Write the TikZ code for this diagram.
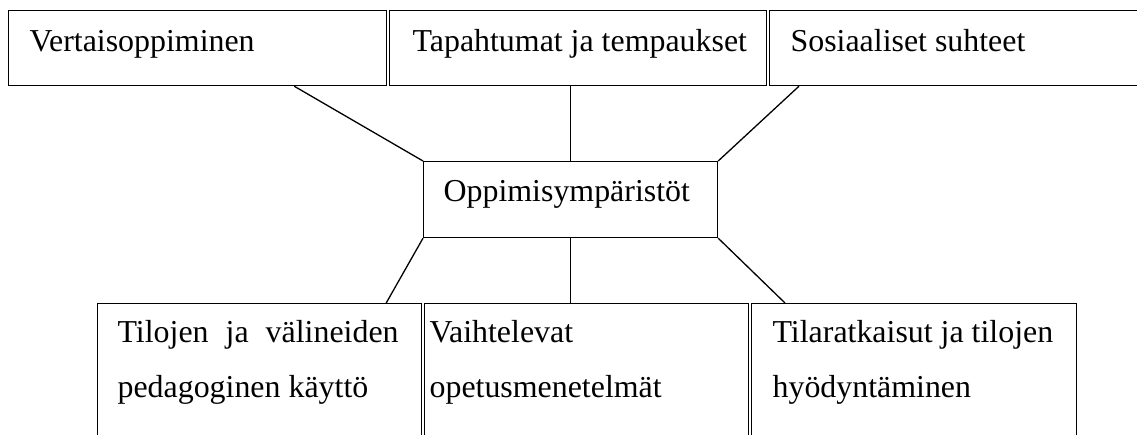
\documentclass[tikz,border=0pt]{standalone}
\usepackage{fontspec}
\setmainfont{Liberation Serif}
\begin{document}
\begin{tikzpicture}[x=1pt,y=-1pt,line width=1.2pt,
  box/.style={draw, rectangle, inner sep=0pt, anchor=north west},
  txt/.style={anchor=base west, inner sep=0pt, font=\fontsize{31.9}{38}\selectfont},
  conn/.style={draw, line width=1.3pt}]
\useasboundingbox (0,0) rectangle (1137,435);
\clip (0,0) rectangle (1137,435);
% top row
\node[box, minimum width=377.5pt, minimum height=75pt] (t1) at (8,10) {};
\node[box, minimum width=377pt, minimum height=75pt] (t2) at (388.5,10) {};
\node[box, minimum width=392pt, minimum height=75pt] (t3) at (768.5,10) {};
% centre
\node[box, minimum width=294pt, minimum height=76pt] (c) at (423,161) {};
% bottom row
\node[box, minimum width=323.5pt, minimum height=157pt] (b1) at (97,303) {};
\node[box, minimum width=324pt, minimum height=157pt] (b2) at (423.5,303) {};
\node[box, minimum width=325.5pt, minimum height=157pt] (b3) at (750.5,303) {};
% texts
\node[txt] (t1a) at (29,52) {Vertaisoppiminen};
\node[txt] (t2a) at (412,52) {Tapahtumat ja tempaukset};
\node[txt] (t3a) at (790,52) {Sosiaaliset suhteet};
\node[txt] (ca) at (443,202) {Oppimisympäristöt};
\node[txt] (b1a) at (117,342) {\makebox[281pt][l]{Tilojen\hfill ja\hfill välineiden}};
\node[txt] (b1b) at (117,397) {pedagoginen käyttö};
\node[txt] (b2a) at (429,342) {Vaihtelevat};
\node[txt] (b2b) at (429,397) {opetusmenetelmät};
\node[txt] (b3a) at (772,342) {Tilaratkaisut ja tilojen};
\node[txt] (b3b) at (772,397) {hyödyntäminen};
% connectors
\draw[conn] ([xshift=-92.5pt]t1.south east) -- (c.north west);
\draw[conn] (c.north) -- (c.north |- t2.south);
\draw[conn] ([xshift=30.5pt]t3.south west) -- (c.north east);
\draw[conn] (c.south west) -- ([xshift=-35.5pt]b1.north east);
\draw[conn] (c.south) -- (c.south |- b2.north);
\draw[conn] (c.south east) -- ([xshift=34.5pt]b3.north west);
\end{tikzpicture}
\end{document}
